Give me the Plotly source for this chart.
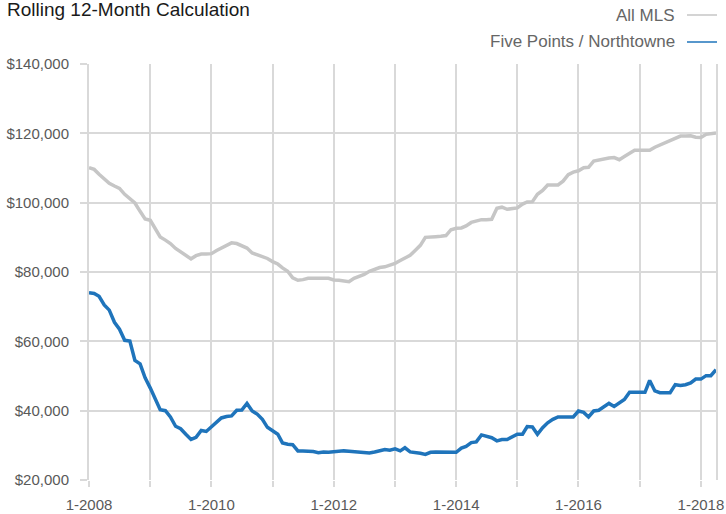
import pandas as pd
import plotly.graph_objects as go

# Monthly, Jan 2008 .. Apr 2018
months = pd.date_range("2008-01-01", periods=124, freq="MS")

all_mls = [
    110100, 109600, 108200, 107000, 105600, 104800, 104100, 102400, 101200, 99900, 97500, 95300,
    94900, 92500, 90100, 89200, 88200, 86800, 85900, 84800, 83800, 84700, 85200, 85200,
    85300, 86200, 86900, 87500, 88400, 88200, 87500, 86900, 85500, 84900, 84400, 83900,
    83000, 82300, 81200, 80200, 78300, 77600, 77800, 78200, 78200, 78300, 78200, 78200,
    77700, 77600, 77500, 77200, 78200, 78700, 79300, 80200, 80700, 81300, 81500, 81900,
    82500, 83300, 84000, 84800, 86200, 87700, 90000, 90200, 90200, 90300, 90500, 92200,
    92600, 92700, 93300, 94300, 94800, 95100, 95100, 95200, 98400, 98700, 98100, 98200,
    98500, 99600, 100200, 100300, 102400, 103500, 105100, 105100, 105100, 106200, 108100, 108800,
    109200, 110100, 110200, 112000, 112300, 112700, 112900, 113000, 112400, 113300, 114200, 115100,
    115100, 115100, 115100, 116000, 116600, 117100, 117700, 118500, 119200, 119200, 119300, 118900,
    118800, 119700, 119900, 120100,
]

five_points = [
    74000, 73800, 73000, 70500, 69000, 65500, 63500, 60300, 60100, 54500, 53500, 49500,
    46500, 43500, 40300, 40000, 38200, 35500, 34800, 33200, 31700, 32300, 34300, 34000,
    35300, 36400, 37900, 38300, 38500, 40100, 40200, 42100, 39900, 39000, 37500, 35200,
    34200, 33200, 30700, 30300, 30200, 28400, 28400, 28400, 28200, 27900, 28100, 28000,
    28200, 28300, 28400, 28300, 28200, 28000, 27900, 27800, 28100, 28400, 28800, 28600,
    29000, 28400, 29300, 28100, 28000, 27700, 27400, 28000, 28100, 28100, 28000, 28000,
    28000, 29200, 29700, 30800, 31000, 33000, 32500, 32200, 31300, 31700, 31700, 32500,
    33200, 33200, 35400, 35300, 33200, 35100, 36500, 37500, 38200, 38200, 38200, 38200,
    39900, 39500, 38200, 39900, 40100, 41000, 42100, 41200, 42200, 43200, 45300, 45300,
    45300, 45300, 48700, 45700, 45200, 45200, 45200, 47500, 47300, 47500, 48000, 49100,
    49100, 50100, 50100, 51800,
]

series_names = ["All MLS", "Five Points / Northtowne"]
title_text = "Rolling 12-Month Calculation"

GRAY = "#C6C6C6"
BLUE = "#1F74BB"
GRID = "#D9D9D9"
FONT = "Liberation Sans, Arial, sans-serif"

fig = go.Figure()
fig.add_trace(go.Scatter(x=months, y=all_mls, mode="lines", name=series_names[0],
                         line=dict(color=GRAY, width=3.5)))
fig.add_trace(go.Scatter(x=months, y=five_points, mode="lines", name=series_names[1],
                         line=dict(color=BLUE, width=3.5)))

fig.update_layout(
    width=726, height=514,
    margin=dict(l=89, r=10, t=64, b=34, autoexpand=False),
    paper_bgcolor="white", plot_bgcolor="white",
    showlegend=False,
    font=dict(family=FONT, color="#595959", size=15),
    title=dict(text=title_text, x=7/726, xanchor="left", xref="container",
               y=1 - 9/514, yanchor="middle", yref="container",
               font=dict(family=FONT, size=19, color="#1a1a1a")),
)

fig.update_xaxes(
    type="date", automargin=False,
    range=[months[0], months[-1]],
    tick0="2008-01-01", dtick="M24", tickformat="%-m-%Y",
    showgrid=True, gridcolor=GRID, gridwidth=2,
    ticks="outside", ticklen=6, tickwidth=2, tickcolor=GRID,
    ticklabelstandoff=5,
    minor=dict(dtick="M12", showgrid=True, gridcolor=GRID, gridwidth=2,
               ticks="outside", ticklen=6, tickwidth=2, tickcolor=GRID),
    showline=False, zeroline=False,
    tickfont=dict(size=15, color="#595959"),
)
fig.update_yaxes(
    automargin=False,
    range=[20000, 140000], dtick=20000, tickformat="$,",
    showgrid=True, gridcolor=GRID, gridwidth=2,
    ticks="outside", ticklen=7, tickwidth=2, tickcolor=GRID,
    ticklabelstandoff=8,
    showline=True, mirror=True, linecolor=GRID, linewidth=2,
    zeroline=False,
    tickfont=dict(size=15, color="#595959"),
)

# Legend drawn to the right of the labels, as in the reference
leg_y = [(480 - 15) / 416, (480 - 42) / 416]
leg_colors = [GRAY, BLUE]
for name, yy, col in zip(series_names, leg_y, leg_colors):
    fig.add_annotation(text=name, xref="paper", yref="paper",
                       x=(677 - 89) / 627, y=yy, xanchor="right", yanchor="middle",
                       showarrow=False, font=dict(family=FONT, size=17, color="#666666"))
    fig.add_shape(type="line", xref="paper", yref="paper",
                  x0=(687 - 89) / 627, x1=(717 - 89) / 627, y0=yy, y1=yy,
                  line=dict(color=col, width=1.5))

fig.write_html("out.html", config={"displayModeBar": False},
               post_script="document.body.style.margin='0';")
